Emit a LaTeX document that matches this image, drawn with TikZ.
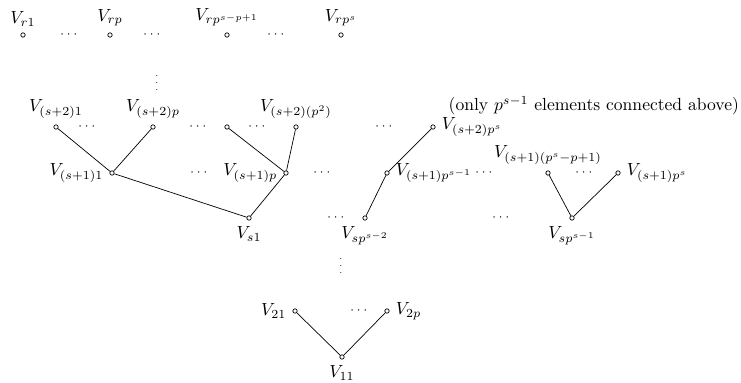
\documentclass[tikz,border=0pt]{standalone}
\usepackage{amsmath,amssymb}
\usepackage{tikz}

\begin{document}
\begin{tikzpicture}[
  vtx/.style={circle, draw, inner sep=0pt, minimum size=2.5pt},
  gap/.style={inner sep=0pt, font=\scriptsize},
  vgap/.style={inner sep=0pt, font=\tiny}]
  \useasboundingbox (0,0) rectangle (14.82,-7.66);
  % top level r
  \node[vtx, label=above:{$V_{r1}$}] (r1) at (0.46,-0.70) {};
  \node[vtx, label=above:{$V_{rp}$}] (rp) at (2.20,-0.70) {};
  \node[vtx, label=above:{$V_{rp^{s-p+1}}$}] (rq) at (4.54,-0.70) {};
  \node[vtx, label=above:{$V_{rp^s}$}] (rs) at (6.82,-0.70) {};
  \node[gap] (d1) at (1.40,-0.70) {$\cdots$};
  \node[gap] (d2) at (3.06,-0.70) {$\cdots$};
  \node[gap] (d3) at (5.54,-0.70) {$\cdots$};
  \node[vgap] (v1) at (3.14,-1.56) {$\vdots$};
  % level s+2
  \node[vtx, label=above:{$V_{(s+2)1}$}] (a1) at (1.12,-2.54) {};
  \node[vtx, label=above:{$V_{(s+2)p}$}] (ap) at (3.06,-2.54) {};
  \node[vtx] (aq) at (4.54,-2.54) {};
  \node[vtx, label=above:{$V_{(s+2)(p^2)}$}] (ar) at (5.92,-2.54) {};
  \node[vtx, label=right:{$V_{(s+2)p^s}$}] (as) at (8.66,-2.54) {};
  \node[gap] (d4) at (1.76,-2.54) {$\cdots$};
  \node[gap] (d5) at (3.98,-2.54) {$\cdots$};
  \node[gap] (d6) at (5.16,-2.54) {$\cdots$};
  \node[gap] (d7) at (7.70,-2.54) {$\cdots$};
  \node[anchor=east, inner sep=1pt] (note) at (14.82,-2.12) {(only $p^{s-1}$ elements connected above)};
  % level s+1
  \node[vtx, label=left:{$V_{(s+1)1}$}] (b1) at (2.24,-3.46) {};
  \node[vtx, label=left:{$V_{(s+1)p}$}] (bp) at (5.72,-3.46) {};
  \node[vtx, label=right:{$V_{(s+1)p^{s-1}}$}] (bq) at (7.74,-3.46) {};
  \node[vtx, label=above:{$V_{(s+1)(p^s-p+1)}$}] (br) at (10.96,-3.46) {};
  \node[vtx, label=right:{$V_{(s+1)p^s}$}] (bs) at (12.36,-3.46) {};
  \node[gap] (d8) at (4.00,-3.46) {$\cdots$};
  \node[gap] (d9) at (6.46,-3.46) {$\cdots$};
  \node[gap] (d10) at (9.70,-3.46) {$\cdots$};
  \node[gap] (d11) at (11.70,-3.46) {$\cdots$};
  % level s
  \node[vtx, label=below:{$V_{s1}$}] (c1) at (4.98,-4.36) {};
  \node[vtx, label=below:{$V_{sp^{s-2}}$}] (cq) at (7.30,-4.36) {};
  \node[vtx, label=below:{$V_{sp^{s-1}}$}] (cs) at (11.44,-4.36) {};
  \node[gap] (d12) at (6.74,-4.36) {$\cdots$};
  \node[gap] (d13) at (10.04,-4.36) {$\cdots$};
  \node[vgap] (v2) at (6.82,-5.22) {$\vdots$};
  % levels 2 and 1
  \node[vtx, label=left:{$V_{21}$}] (e1) at (5.90,-6.22) {};
  \node[vtx, label=right:{$V_{2p}$}] (ep) at (7.74,-6.22) {};
  \node[gap] (d14) at (7.20,-6.22) {$\cdots$};
  \node[vtx, label=below:{$V_{11}$}] (f1) at (6.84,-7.14) {};
  % edges
  \foreach \u/\w in {a1/b1,ap/b1,b1/c1,aq/bp,ar/bp,bp/c1,as/bq,bq/cq,br/cs,bs/cs,e1/f1,ep/f1}
     \draw (\u) -- (\w);
\end{tikzpicture}
\end{document}
